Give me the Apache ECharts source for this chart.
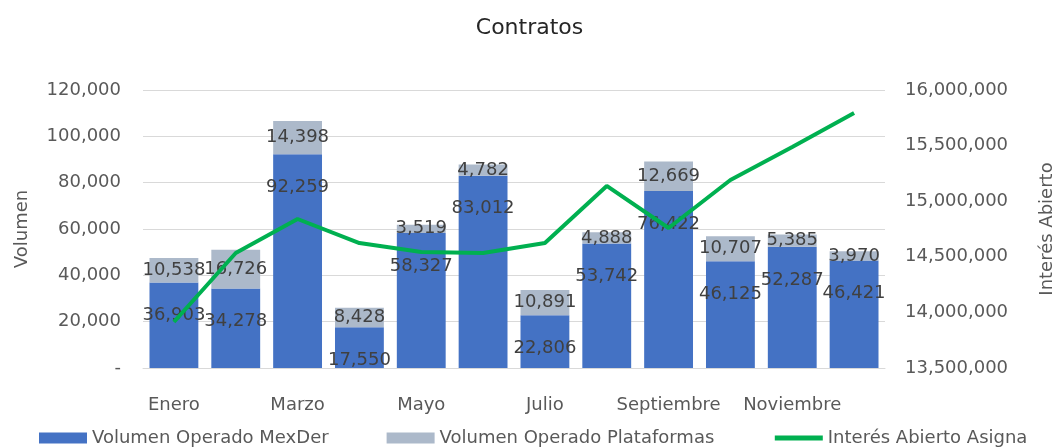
<!DOCTYPE html>
<html>
<head>
<meta charset="utf-8">
<script src="https://cdn.jsdelivr.net/npm/echarts@6/dist/echarts.min.js"></script>
<style>
  html, body { margin: 0; padding: 0; background: #fff; }
  #chart { width: 1059px; height: 448px; }
</style>
</head>
<body>
<div id="chart"></div>
<script>
// meses
var meses = ['Enero', 'Febrero', 'Marzo', 'Abril', 'Mayo', 'Junio', 'Julio',
  'Agosto', 'Septiembre', 'Octubre', 'Noviembre', 'Diciembre'];
// volumen operado
var mexder = [36903, 34278, 92259, 17550, 58327, 83012, 22806, 53742, 76422, 46125, 52287, 46421];
var plataformas = [10538, 16726, 14398, 8428, 3519, 4782, 10891, 4888, 12669, 10707, 5385, 3970];
// interes abierto (eje derecho)
var interes = [13914000, 14534000, 14840000, 14624000, 14543000, 14534000, 14624000,
  15137000, 14759000, 15191000, 15487000, 15793000];

var fuente = 'DejaVu Sans';
var gris = '#595959';

function fmt(v) {
  return v === 0 ? '-' : v.toLocaleString('en-US');
}

var chart = echarts.init(document.getElementById('chart'));
var option = {
  animation: false,
  textStyle: { fontFamily: fuente },
  title: {
    text: 'Contratos',
    left: 'center',
    top: 12,
    textStyle: { fontFamily: fuente, fontSize: 22, fontWeight: 'normal', color: '#262626' }
  },
  legend: {
    left: 34,
    top: 424,
    itemWidth: 48,
    itemHeight: 11,
    itemGap: 58,
    textStyle: { fontFamily: fuente, fontSize: 18, color: gris },
    data: [
      { name: 'Volumen Operado MexDer', icon: 'rect' },
      { name: 'Volumen Operado Plataformas', icon: 'rect' },
      {
        name: 'Interés Abierto Asigna',
        itemStyle: { color: 'rgba(0,0,0,0)', borderWidth: 0 },
        lineStyle: { width: 5 }
      }
    ]
  },
  grid: { left: 143, right: 174, top: 90, bottom: 80, outerBoundsMode: 'none' },
  xAxis: {
    type: 'category',
    data: meses,
    axisTick: { show: false },
    axisLine: { lineStyle: { color: '#D9D9D9' } },
    axisLabel: { interval: 1, margin: 28, fontSize: 18, color: gris, fontFamily: fuente }
  },
  yAxis: [
    {
      type: 'value',
      min: 0, max: 120000, interval: 20000,
      name: 'Volumen',
      nameLocation: 'middle',
      nameGap: 112,
      nameTextStyle: { fontSize: 18, color: gris, fontFamily: fuente },
      axisLabel: { fontSize: 18, color: gris, margin: 22, formatter: fmt },
      splitLine: { lineStyle: { color: '#D9D9D9' } }
    },
    {
      type: 'value',
      min: 13500000, max: 16000000, interval: 500000,
      name: 'Interés Abierto',
      nameLocation: 'middle',
      nameGap: 153,
      nameTextStyle: { fontSize: 18, color: gris, fontFamily: fuente },
      axisLabel: { fontSize: 18, color: gris, margin: 20, formatter: fmt },
      splitLine: { show: false }
    }
  ],
  series: [
    {
      name: 'Volumen Operado MexDer',
      type: 'bar',
      stack: 'vol',
      data: mexder,
      barCategoryGap: '21%',
      itemStyle: { color: '#4472C4' },
      label: {
        show: true, position: 'insideTop', distance: 24,
        fontSize: 18, color: '#404040', fontFamily: fuente,
        formatter: function (p) { return fmt(p.value); }
      }
    },
    {
      name: 'Volumen Operado Plataformas',
      type: 'bar',
      stack: 'vol',
      data: plataformas,
      itemStyle: { color: '#ACB9CA' },
      label: {
        show: true, position: 'inside',
        fontSize: 18, color: '#404040', fontFamily: fuente,
        formatter: function (p) { return fmt(p.value); }
      }
    },
    {
      name: 'Interés Abierto Asigna',
      type: 'line',
      yAxisIndex: 1,
      data: interes,
      showSymbol: false,
      symbol: 'none',
      lineStyle: { color: '#00B050', width: 4 },
      itemStyle: { color: '#00B050' },
      z: 3
    }
  ]
};
chart.setOption(option);
</script>
</body>
</html>
